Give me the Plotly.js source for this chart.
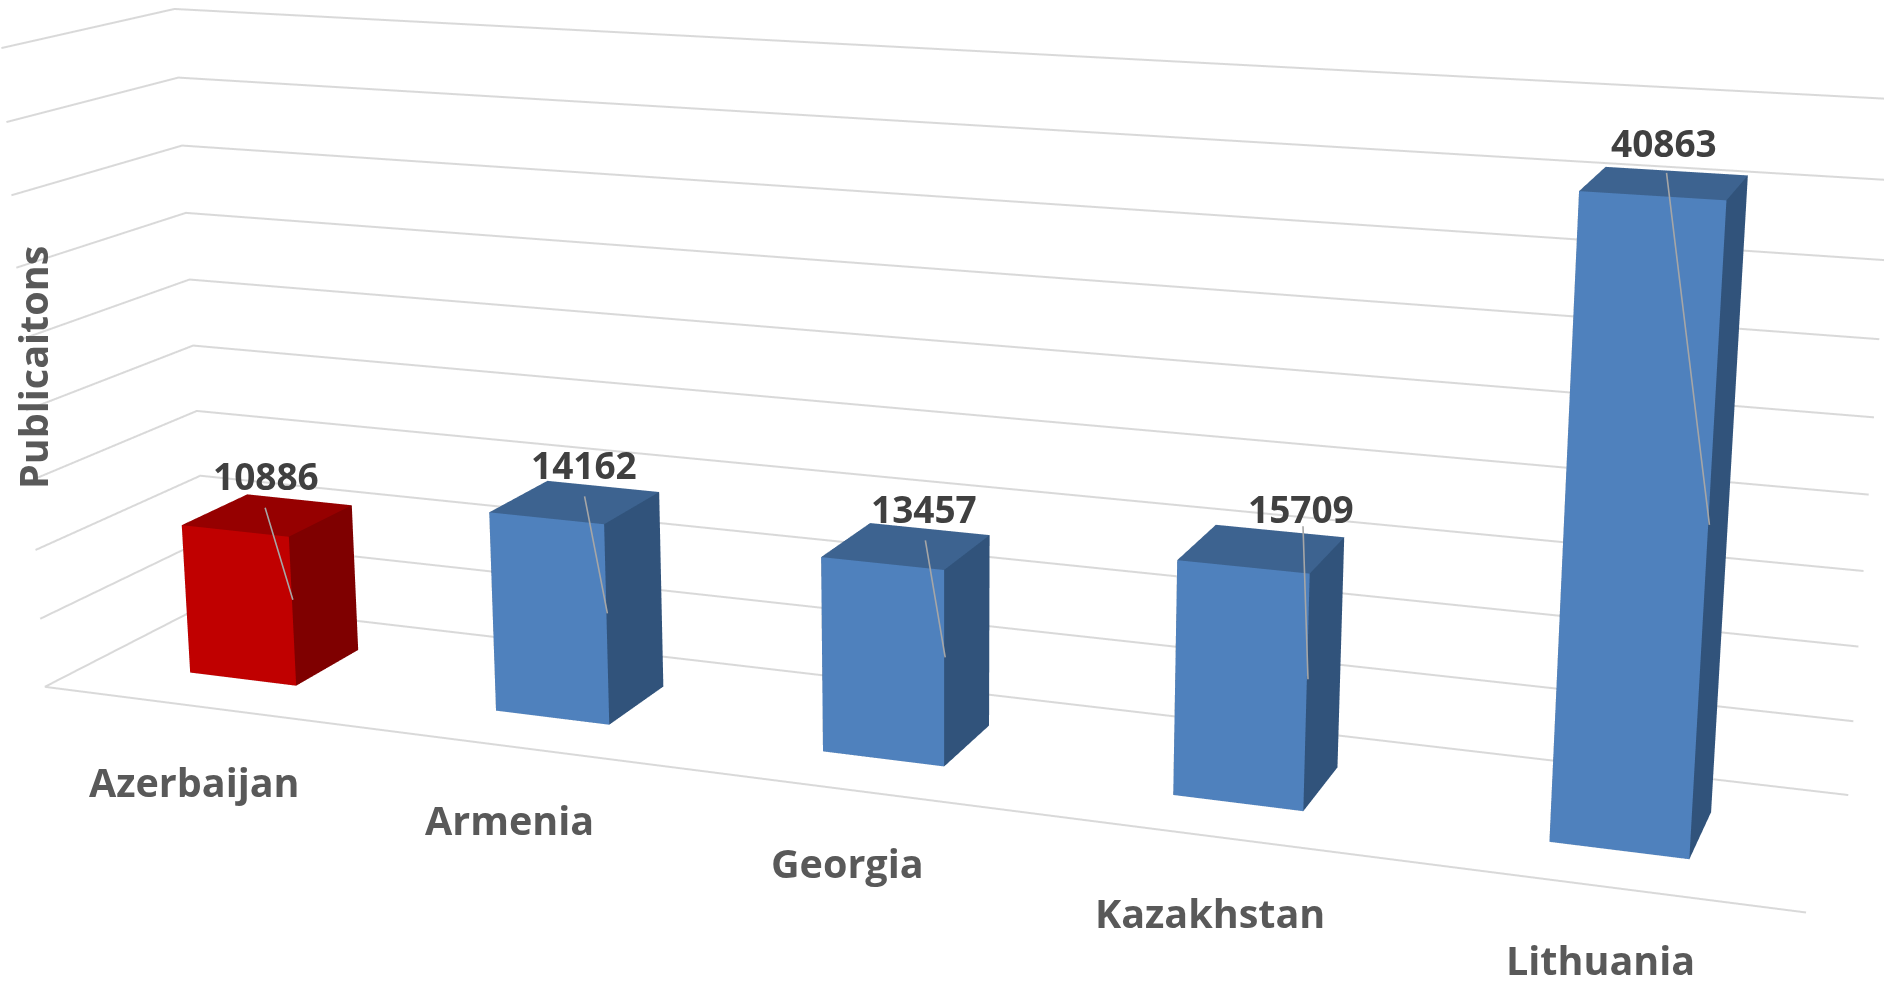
<!DOCTYPE html>
<html>
<head>
<meta charset="utf-8">
<script src="https://cdn.plot.ly/plotly-3.0.1.min.js"></script>
<style>
html,body{margin:0;padding:0;width:1884px;height:984px;overflow:hidden;background:#fff}
#wrap{position:absolute;left:0;top:0;width:1884px;height:984px;overflow:hidden}
#chart{position:absolute;left:0;top:-1012px;width:1900px;height:2941px}
</style>
</head>
<body>
<div id="wrap"><div id="chart"></div></div>
<script>
const categories = ['Azerbaijan', 'Armenia', 'Georgia', 'Kazakhstan', 'Lithuania'];
const publications = [10886, 14162, 13457, 15709, 40863];
const yAxisTitle = 'Publicaitons';
const gridValues = [0, 5000, 10000, 15000, 20000, 25000, 30000, 35000, 40000, 45000];

const palettes = [
  {front: '#C00000', side: '#7F0000', top: '#960000'},
  {front: '#4F81BD', side: '#31537B', top: '#3D6390'},
  {front: '#4F81BD', side: '#31537B', top: '#3D6390'},
  {front: '#4F81BD', side: '#31537B', top: '#3D6390'},
  {front: '#4F81BD', side: '#31537B', top: '#3D6390'}
];
const W = 1900, H = 2941, TOP = -1012;
const barHalf = 0.177, depthLo = 0.30, depthHi = 0.71;
const xMin = -0.5, xMax = 4.5, zMax = 46000;
const inset = 0.002;
const leaderZ = [0.58, 0.56, 0.56, 0.56, 0.52];
const textDx = [-27, -23, -21, -7, -45];
const textDy = [-124, -149, -149, -171, -382];
const tailDx = [-28, -23, -20, -5, -43];
const tailDy = [-93, -118, -118, -154, -353];
const labelShift = [-76, -73, -73, -76, -73];

function barTrace(cat, value, c) {
  const x0 = cat - barHalf, x1 = cat + barHalf;
  const x = [x0, x1, x1, x0, x0, x1, x1, x0];
  const y = [depthLo, depthLo, depthHi, depthHi, depthLo, depthLo, depthHi, depthHi];
  const z = [0, 0, 0, 0, value, value, value, value];
  return {
    type: 'mesh3d', x, y, z,
    i: [0, 0, 1, 1, 4, 4, 3, 3, 0, 0, 0, 0],
    j: [1, 5, 2, 6, 5, 6, 2, 6, 3, 7, 1, 2],
    k: [5, 4, 6, 5, 6, 7, 6, 7, 7, 4, 2, 3],
    facecolor: [c.front, c.front, c.side, c.side, c.top, c.top, c.side, c.side, c.side, c.side, c.side, c.side],
    flatshading: true,
    lighting: {ambient: 1, diffuse: 0, specular: 0, roughness: 1, fresnel: 0},
    hoverinfo: 'skip', showscale: false
  };
}
const gridLine = {color: '#D9D9D9', width: 4};
const traces = categories.map((n, i) => barTrace(i, publications[i], palettes[i]));
gridValues.forEach(v => traces.push({
  type: 'scatter3d', mode: 'lines',
  x: [xMin + inset, xMin + inset, xMax - inset], y: [inset, 1 - inset, 1 - inset], z: [v + 20, v + 20, v + 20],
  line: gridLine, hoverinfo: 'skip', showlegend: false
}));
traces.push({
  type: 'scatter3d', mode: 'lines', x: [xMin + inset, xMax - inset], y: [inset, inset], z: [20, 20],
  line: gridLine, hoverinfo: 'skip', showlegend: false
});

const catNotes = categories.map((n, i) => ({
  x: i, y: 0.001, z: 1, text: n, showarrow: false, yshift: labelShift[i],
  font: {family: '"Open Sans", sans-serif', size: 39.5, color: '#595959', weight: 700}
}));
const leaderNotes = publications.map((v, i) => ({
  x: i + 0.18, y: depthLo, z: v * leaderZ[i], text: ' ',
  showarrow: true, arrowhead: 0, arrowwidth: 1.6, arrowcolor: '#A6A6A6', standoff: 0,
  ax: tailDx[i], ay: tailDy[i], font: {size: 1}, borderpad: 0
}));
const valNotes = publications.map((v, i) => ({
  x: i + 0.18, y: depthLo, z: v * leaderZ[i], text: String(v),
  showarrow: false, xshift: textDx[i], yshift: -textDy[i],
  font: {family: '"Open Sans", sans-serif', size: 37, color: '#404040', weight: 700}
}));

const axisBase = {
  showgrid: false, zeroline: false, showline: false, showticklabels: false, ticks: '',
  showbackground: false, showspikes: false, title: {text: ''}
};
const layout = {
  width: W, height: H, margin: {l: 0, r: 0, t: 0, b: 0},
  paper_bgcolor: '#ffffff', showlegend: false,
  annotations: [{
    xref: 'paper', yref: 'paper', x: 33 / W, y: 1 - (368 - TOP) / H,
    xanchor: 'center', yanchor: 'middle',
    text: yAxisTitle, textangle: -90, showarrow: false,
    font: {family: '"Open Sans", sans-serif', size: 39.5, color: '#595959', weight: 700}
  }],
  scene: {
    domain: {x: [0, 1], y: [0, 1]},
    aspectmode: 'manual', aspectratio: {x: 1, y: 0.1761, z: 0.3705 * 46000 / 45000},
    camera: {
      eye: {x: 0.6667, y: -1.7377, z: 0.4630 - 0.3705 / 90},
      center: {x: 0.0307, y: -0.0134, z: -0.0188 - 0.3705 / 90},
      up: {x: 0, y: 0, z: 1},
      projection: {type: 'perspective'}
    },
    xaxis: Object.assign({}, axisBase, {range: [xMin, xMax]}),
    yaxis: Object.assign({}, axisBase, {range: [0, 1]}),
    zaxis: Object.assign({}, axisBase, {range: [0, zMax]}),
    annotations: catNotes.concat(leaderNotes, valNotes)
  }
};
Plotly.newPlot('chart', traces, layout, {displayModeBar: false, responsive: false});
</script>
</body>
</html>
